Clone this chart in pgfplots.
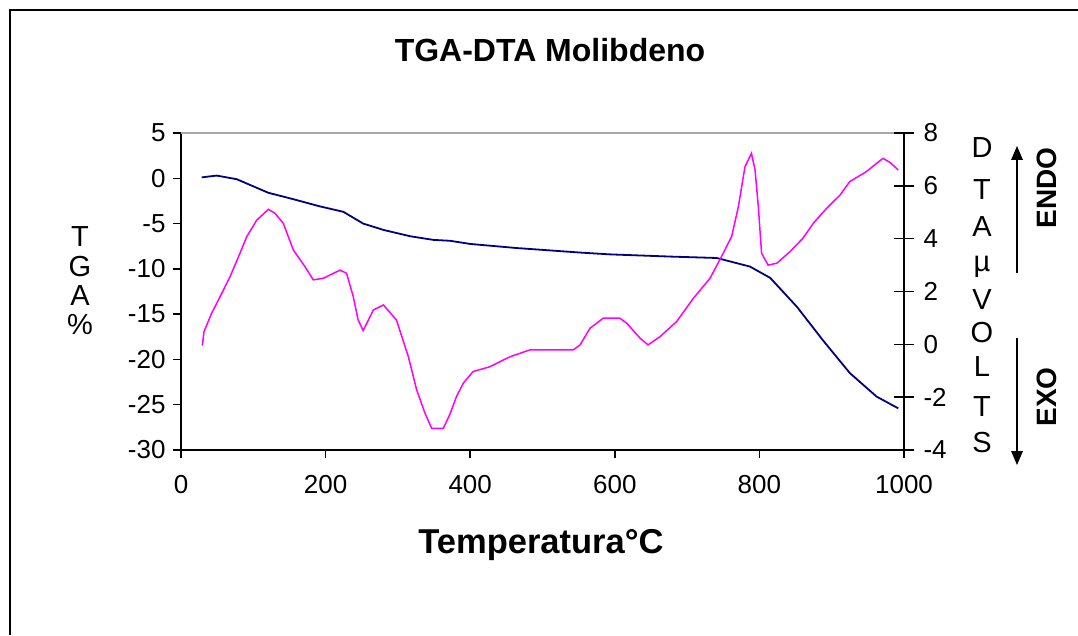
\documentclass[border=0pt]{standalone}
\usepackage{pgfplots}
\pgfplotsset{compat=1.18}
\usepackage{fontspec}
\setmainfont{Liberation Sans}
\usetikzlibrary{arrows.meta}
\definecolor{tganavy}{RGB}{0,0,128}
\definecolor{dtamag}{RGB}{255,0,255}

\pgfplotstableread{
T v
28.6 0.1
49.3 0.3
77 -0.1
120.8 -1.6
155 -2.3
192 -3.1
224.5 -3.7
252 -5.0
280 -5.7
317 -6.4
349 -6.8
372 -6.9
400 -7.25
464 -7.7
552 -8.2
593 -8.4
679 -8.65
741 -8.8
787 -9.75
815 -11.0
852 -14.2
888 -17.9
925 -21.5
962 -24.1
992 -25.4
}\tgadata

\pgfplotstableread{
T v
29.5 -0.05
31.8 0.48
42.4 1.18
54 1.8
67.8 2.56
81.6 3.45
90.8 4.07
104.7 4.7
120.8 5.11
130 4.96
141.5 4.58
155.4 3.57
171.5 2.94
183 2.44
196.8 2.5
220 2.81
229 2.69
238.3 1.8
245 0.92
252 0.52
266 1.30
280 1.49
298 0.92
314.5 -0.47
326 -1.73
337.5 -2.61
346.7 -3.18
362.8 -3.18
372 -2.64
381 -1.98
390.5 -1.47
404 -1.03
427 -0.85
455 -0.47
482.7 -0.21
542.6 -0.21
552 -0.02
565.7 0.61
584 0.99
607 0.99
616.5 0.80
635 0.23
646 -0.02
662.5 0.29
685.5 0.86
708.6 1.74
731.7 2.50
750 3.45
761.6 4.08
770.9 5.21
780 6.72
789 7.23
794 6.6
798.5 5.21
803 3.45
812 3.0
824 3.07
842 3.5
860 4.01
874.5 4.58
893 5.15
911.5 5.65
925 6.16
948 6.54
962 6.85
971 7.04
981 6.88
992 6.6
}\dtadata

\begin{document}
\begin{tikzpicture}[x=1pt,y=1pt]
\path[use as bounding box] (0,0) rectangle (1078,635);
\draw[line width=2pt] (10,0) -- (10,625) -- (1078,625);

\begin{axis}[
  at={(181pt,185pt)}, anchor=south west,
  width=723pt, height=317pt, scale only axis,
  xmin=0, xmax=1000, ymin=-30, ymax=5,
  xtick={0,200,...,1000}, ytick={-30,-25,...,5},
  axis x line*=bottom, axis y line*=left,
  axis line style={line width=1.5pt, -},
  tick align=outside, major tick length=8pt,
  tick style={line width=1.5pt, black},
  ticklabel style={font=\fontsize{26}{30}\selectfont},
  /pgf/number format/assume math mode=true,
  /pgf/number format/1000 sep={},
  xticklabel style={yshift=-14pt},
  yticklabel style={xshift=-4pt},
  clip=false,
]
\draw[gray!70, line width=1.5pt] (rel axis cs:0,1) -- (rel axis cs:1,1);
\addplot[tganavy, line width=1.8pt, sharp plot] table[x=T, y=v] {\tgadata};
\end{axis}

\begin{axis}[
  at={(181pt,185pt)}, anchor=south west,
  width=723pt, height=317pt, scale only axis,
  xmin=0, xmax=1000, ymin=-4, ymax=8,
  ytick={-4,-2,...,8},
  axis y line*=right, axis x line=none,
  axis line style={line width=1.5pt, -},
  tick align=center, major tick length=20pt,
  tick style={line width=1.5pt, black},
  ticklabel style={font=\fontsize{26}{30}\selectfont},
  /pgf/number format/assume math mode=true,
  yticklabel style={xshift=6pt},
]
\addplot[dtamag, line width=1.5pt, sharp plot] table[x=T, y=v] {\dtadata};
\end{axis}

\node[font=\fontsize{32}{36}\selectfont\bfseries] at (550,585) {TGA-DTA Molibdeno};
\node[font=\fontsize{34.5}{38}\selectfont\bfseries] at (541,90) {Temperatura°C};

\foreach \l/\y in {T/237,G/267,A/296,\%/325}
  \node[font=\fontsize{29}{32}\selectfont] at (80,{635-\y}) {\l};
\foreach \l/\y in {D/148,T/190,A/227,µ/267,V/300,O/333,L/367,T/407,S/443}
  \node[font=\fontsize{29}{32}\selectfont] at (982,{635-\y}) {\l};

\node[font=\fontsize{28}{32}\selectfont\bfseries, rotate=90] at (1047,447) {ENDO};
\node[font=\fontsize{28}{32}\selectfont\bfseries, rotate=90] at (1047,238) {EXO};
\draw[line width=1.5pt] (1017,362) -- (1017,476);
\draw[line width=1.5pt] (1017,297) -- (1017,183);
\fill (1011,475) -- (1017,489) -- (1023,475) -- cycle;
\fill (1011,184) -- (1017,170) -- (1023,184) -- cycle;
\end{tikzpicture}
\end{document}
